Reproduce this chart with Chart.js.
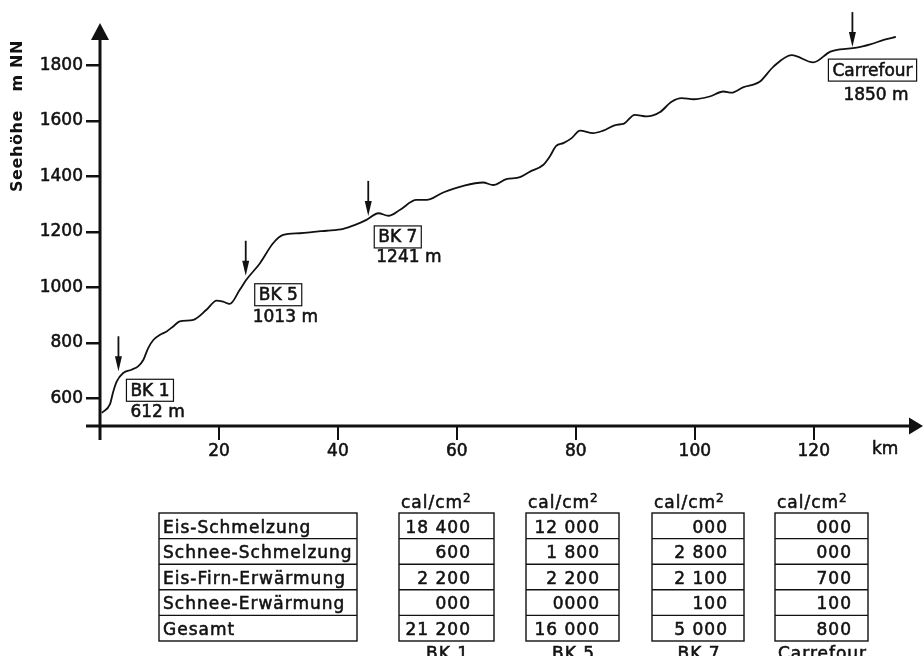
<!DOCTYPE html>
<html>
<head>
<meta charset="utf-8">
<script src="https://cdn.jsdelivr.net/npm/chart.js@4.4.1/dist/chart.umd.min.js"></script>
<style>
  html, body { margin: 0; padding: 0; background: #fff; }
  #wrap { width: 924px; height: 656px; }
</style>
</head>
<body>
<div id="wrap"><canvas id="c" width="924" height="656"></canvas></div>
<script>
// Longitudinal profile along the glacier: distance (km) and altitude (m NN)
const distanceKm = [0.3, 1.7, 2.2, 2.8, 3.9, 5.3, 6.4, 7.3, 8.1, 9.0, 10.1, 11.2, 12.3, 13.4,
  15.7, 17.9, 19.6, 20.7, 21.8, 23.5, 24.6, 26.9, 29.1, 30.8, 33.6, 36.4, 38.1, 40.9, 42.9,
  44.8, 46.8, 48.5, 50.4, 53.2, 54.9, 57.7, 61.1, 64.4, 66.1, 68.3, 70.6, 72.3, 74.5, 75.6,
  76.7, 77.9, 79.3, 80.7, 82.9, 84.6, 86.8, 88.0, 89.9, 91.9, 94.1, 96.1, 97.8, 99.8, 102.5,
  104.8, 106.2, 108.1, 110.9, 113.2, 116.3, 119.9, 122.8, 124.4, 127.2, 129.5, 131.9, 133.8];
const elevationM = [547, 580, 622, 660, 691, 703, 715, 739, 781, 811, 829, 841, 859, 877,
  883, 919, 952, 948, 940, 991, 1027, 1087, 1159, 1189, 1195, 1201, 1204, 1211, 1225,
  1243, 1267, 1258, 1279, 1315, 1315, 1342, 1366, 1378, 1369, 1390, 1397, 1417, 1441, 1471,
  1510, 1520, 1538, 1565, 1556, 1565, 1586, 1589, 1622, 1616, 1631, 1669, 1682, 1678, 1688,
  1706, 1702, 1721, 1741, 1795, 1837, 1811, 1850, 1858, 1864, 1876, 1893, 1903];

// Axis ticks
const altitudeTicks = [600, 800, 1000, 1200, 1400, 1600, 1800];
const distanceTicks = [20, 40, 60, 80, 100, 120];

// Measuring stations along the profile
const stationNames = ['BK 1', 'BK 5', 'BK 7', 'Carrefour'];
const stationKm = [3.1, 24.5, 45.1, 126.5];
const stationAltitude = [612, 1013, 1241, 1850];

// Energy consumption per station (cal/cm²)
const energyTerms = ['Eis-Schmelzung', 'Schnee-Schmelzung', 'Eis-Firn-Erwärmung', 'Schnee-Erwärmung', 'Gesamt'];
const energyBK1 = ['18 400', '600', '2 200', '000', '21 200'];
const energyBK5 = ['12 000', '1 800', '2 200', '0000', '16 000'];
const energyBK7 = ['000', '2 800', '2 100', '100', '5 000'];
const energyCarrefour = ['000', '000', '700', '100', '800'];
const energyColumns = [energyBK1, energyBK5, energyBK7, energyCarrefour];
const energyColumnNames = ['BK 1', 'BK 5', 'BK 7', 'Carrefour'];

const FONT = '"DejaVu Sans", sans-serif';
const INK = '#111';

// placement of each station's arrow and name box
const stationLayout = [
  { gap: 8, boxDx: 8,   boxDy: 8,  valDx: 12, valDy: 41 },
  { gap: 5, boxDx: 9,   boxDy: 8,  valDx: 7,  valDy: 42 },
  { gap: 3, boxDx: 6,   boxDy: 10, valDx: 8,  valDy: 42 },
  { gap: 1, boxDx: -24, boxDy: 12, valDx: -9, valDy: 48 }
];

function profileAltitudeAt(km) {
  for (let i = 1; i < distanceKm.length; i++) {
    if (km <= distanceKm[i]) {
      const t = (km - distanceKm[i - 1]) / (distanceKm[i] - distanceKm[i - 1]);
      return elevationM[i - 1] + t * (elevationM[i] - elevationM[i - 1]);
    }
  }
  return elevationM[elevationM.length - 1];
}

// slightly heavier text, like the printed lettering
function inkText(ctx, s, x, y) {
  ctx.lineWidth = 0.55;
  ctx.strokeText(s, x, y);
  ctx.fillText(s, x, y);
}

const decorations = {
  id: 'decorations',
  afterDraw(chart) {
    const ctx = chart.ctx;
    const xs = chart.scales.x, ys = chart.scales.y;
    const x0 = xs.getPixelForValue(0);
    const yBase = ys.getPixelForValue(ys.min);
    const area = chart.chartArea;
    ctx.save();
    ctx.fillStyle = INK;
    ctx.strokeStyle = INK;

    // axes with arrow heads
    ctx.lineWidth = 3;
    ctx.beginPath();
    ctx.moveTo(x0, yBase + 14);
    ctx.lineTo(x0, area.top + 14);
    ctx.moveTo(x0 - 14, yBase);
    ctx.lineTo(area.right - 10, yBase);
    ctx.stroke();
    ctx.beginPath();
    ctx.moveTo(x0, area.top);
    ctx.lineTo(x0 - 9, area.top + 17);
    ctx.lineTo(x0 + 9, area.top + 17);
    ctx.closePath();
    ctx.fill();
    ctx.beginPath();
    ctx.moveTo(area.right + 1, yBase);
    ctx.lineTo(area.right - 13, yBase - 8.5);
    ctx.lineTo(area.right - 13, yBase + 8.5);
    ctx.closePath();
    ctx.fill();

    // axis titles
    ctx.font = 'bold 16px ' + FONT;
    ctx.textBaseline = 'middle';
    ctx.textAlign = 'left';
    ctx.save();
    ctx.translate(18, 192);
    ctx.rotate(-Math.PI / 2);
    ctx.letterSpacing = '0.6px';
    ctx.fillText('Seehöhe   m NN', 0, 0);
    ctx.restore();
    ctx.font = '17px ' + FONT;
    inkText(ctx, 'km', area.right - 50, yBase + 24);

    // station arrows and labels
    stationKm.forEach((km, i) => {
      const L = stationLayout[i];
      const ax = xs.getPixelForValue(km);
      const tip = ys.getPixelForValue(profileAltitudeAt(km)) - L.gap;
      ctx.lineWidth = 1.8;
      ctx.beginPath();
      ctx.moveTo(ax, tip - 35);
      ctx.lineTo(ax, tip - 12);
      ctx.stroke();
      ctx.beginPath();
      ctx.moveTo(ax, tip);
      ctx.lineTo(ax - 3.5, tip - 15);
      ctx.lineTo(ax + 3.5, tip - 15);
      ctx.closePath();
      ctx.fill();

      ctx.font = '17px ' + FONT;
      ctx.letterSpacing = '0px';
      ctx.textAlign = 'left';
      ctx.textBaseline = 'middle';
      const w = ctx.measureText(stationNames[i]).width + 8;
      const bx = ax + L.boxDx, by = tip + L.boxDy, bh = 22;
      ctx.lineWidth = 1.2;
      ctx.strokeRect(bx, by, w, bh);
      inkText(ctx, stationNames[i], bx + 4, by + bh / 2 + 1);
      inkText(ctx, stationAltitude[i] + ' m', ax + L.valDx, tip + L.valDy);
    });

    // energy table
    const rowTop = 513, rowH = 25.6;
    const labelBox = [159, 357];
    const colBoxes = [[399, 494], [526, 619], [652, 744], [775, 868]];
    const valueInset = [23, 19, 16, 16];
    ctx.font = '17px ' + FONT;
    ctx.letterSpacing = '1px';
    ctx.textBaseline = 'alphabetic';
    const drawBox = (l, r) => {
      ctx.lineWidth = 1.4;
      ctx.strokeRect(l, rowTop, r - l, rowH * energyTerms.length);
      for (let k = 1; k < energyTerms.length; k++) {
        ctx.beginPath();
        ctx.moveTo(l, rowTop + k * rowH);
        ctx.lineTo(r, rowTop + k * rowH);
        ctx.stroke();
      }
    };
    drawBox(labelBox[0], labelBox[1]);
    ctx.textAlign = 'left';
    energyTerms.forEach((t, k) => inkText(ctx, t, labelBox[0] + 4, rowTop + k * rowH + 19.5));
    colBoxes.forEach(([l, r], c) => {
      drawBox(l, r);
      ctx.textAlign = 'right';
      energyColumns[c].forEach((v, k) => inkText(ctx, v, r - valueInset[c], rowTop + k * rowH + 19.5));
      // unit header
      ctx.textAlign = 'left';
      ctx.font = '17px ' + FONT;
      const unitW = ctx.measureText('cal/cm').width;
      inkText(ctx, 'cal/cm', l + 2, rowTop - 5);
      ctx.font = '12px ' + FONT;
      inkText(ctx, '2', l + 2 + unitW, rowTop - 11);
      ctx.font = '17px ' + FONT;
      // station name below
      ctx.textAlign = 'center';
      inkText(ctx, energyColumnNames[c], (l + r) / 2 + 1, 659);
    });
    ctx.restore();
  }
};

new Chart(document.getElementById('c'), {
  type: 'line',
  data: {
    datasets: [{
      data: distanceKm.map((k, i) => ({ x: k, y: elevationM[i] })),
      borderColor: INK,
      borderWidth: 1.8,
      pointRadius: 0,
      cubicInterpolationMode: 'monotone',
      fill: false
    }]
  },
  options: {
    responsive: false,
    animation: false,
    devicePixelRatio: 1,
    layout: { padding: { top: 23, right: 2, left: 0, bottom: 0 } },
    plugins: { legend: { display: false }, tooltip: { enabled: false } },
    scales: {
      x: {
        type: 'linear',
        min: 0,
        max: 138.2,
        afterBuildTicks: s => { s.ticks = distanceTicks.map(v => ({ value: v })); },
        afterFit: s => { s.height = 230; },
        border: { display: false },
        grid: { drawOnChartArea: false, drawTicks: true, tickLength: 14, color: INK, lineWidth: 2 },
        ticks: { color: INK, font: { family: FONT, size: 17 }, padding: 1, maxRotation: 0,
                 textStrokeColor: INK, textStrokeWidth: 0.55, callback: v => String(v) }
      },
      y: {
        type: 'linear',
        min: 500,
        max: 1953,
        afterBuildTicks: s => { s.ticks = altitudeTicks.map(v => ({ value: v })); },
        afterFit: s => { s.width = 100; },
        border: { display: false },
        grid: { drawOnChartArea: false, drawTicks: true, tickLength: 14, color: INK, lineWidth: 2.5 },
        ticks: { color: INK, font: { family: FONT, size: 17 }, padding: 3,
                 textStrokeColor: INK, textStrokeWidth: 0.55, callback: v => String(v) }
      }
    }
  },
  plugins: [decorations]
});
</script>
</body>
</html>
